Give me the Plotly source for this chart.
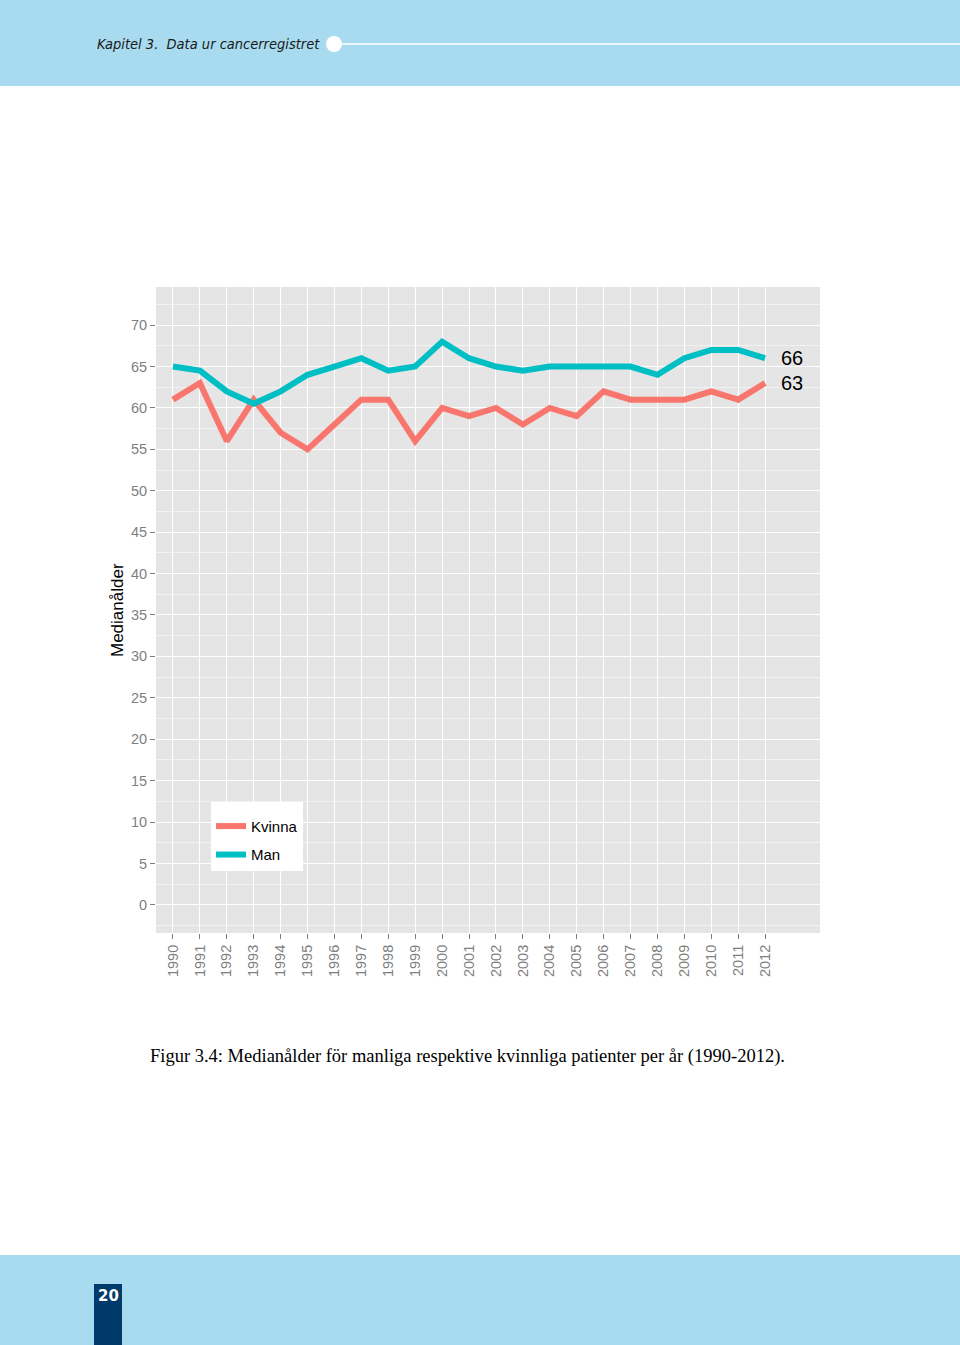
import plotly.graph_objects as go

years = list(range(1990, 2013))
kvinna = [61, 63, 56, 61, 57, 55, 58, 61, 61, 56, 60, 59, 60, 58, 60, 59, 62, 61, 61, 61, 62, 61, 63]
man = [65, 64.5, 62, 60.5, 62, 64, 65, 66, 64.5, 65, 68, 66, 65, 64.5, 65, 65, 65, 65, 64, 66, 67, 67, 66]
y_ticks = [0, 5, 10, 15, 20, 25, 30, 35, 40, 45, 50, 55, 60, 65, 70]
series_names = ["Kvinna", "Man"]
series_colors = ["#F8766D", "#00BFC4"]

W, H = 960, 1345
fig = go.Figure()
for name, vals, col in zip(series_names, [kvinna, man], series_colors):
    fig.add_trace(go.Scatter(x=years, y=vals, mode="lines", name=name, legendgroup=name,
                             line=dict(color=col, width=6)))

# end labels
for vals in [man, kvinna]:
    fig.add_annotation(x=years[-1] + 0.5, y=vals[-1], text=str(int(vals[-1])), showarrow=False,
                       xanchor="left", yanchor="middle", font=dict(size=20, color="black",
                       family="Liberation Sans"), xref="x", yref="y")

band = "#A8DBEF"
shapes = [
    dict(type="rect", xref="paper", yref="paper", x0=0, x1=1, y0=1 - 86 / H, y1=1,
         fillcolor=band, line_width=0, layer="below"),
    dict(type="line", xref="paper", yref="paper", x0=340 / W, x1=1, y0=1 - 44 / H, y1=1 - 44 / H,
         line=dict(color="white", width=1.5)),
    dict(type="circle", xref="paper", yref="paper", x0=326 / W, x1=342 / W,
         y0=1 - 52 / H, y1=1 - 36 / H, fillcolor="white", line_width=0),
    dict(type="rect", xref="paper", yref="paper", x0=0, x1=1, y0=0, y1=1 - 1255 / H,
         fillcolor=band, line_width=0, layer="below"),
    dict(type="rect", xref="paper", yref="paper", x0=94 / W, x1=122 / W, y0=0, y1=1 - 1284 / H,
         fillcolor="#003A6B", line_width=0),
]
annotations = [
    dict(xref="paper", yref="paper", x=95 / W, y=1 - 44 / H, text="<i>Kapitel 3.  Data ur cancerregistret</i>",
         showarrow=False, xanchor="left", yanchor="middle",
         font=dict(size=14.5, color="#1a1a1a", family="DejaVu Sans Condensed, Liberation Sans")),
    dict(xref="paper", yref="paper", x=108 / W, y=1 - 1296 / H, text="<b>20</b>",
         showarrow=False, xanchor="center", yanchor="middle",
         font=dict(size=15, color="white", family="DejaVu Sans")),
    dict(xref="paper", yref="paper", x=467 / W, y=1 - 1056 / H,
         text="Figur 3.4: Medianålder för manliga respektive kvinnliga patienter per år (1990-2012).",
         showarrow=False, xanchor="center", yanchor="middle",
         font=dict(size=18.5, color="black", family="Liberation Serif")),
    dict(xref="paper", yref="paper", x=117 / W, y=1 - 610 / H, text="Medianålder", textangle=-90,
         showarrow=False, xanchor="center", yanchor="middle",
         font=dict(size=17, color="black", family="Liberation Sans")),
]
for a in annotations:
    fig.add_annotation(**a)

fig.update_layout(
    width=W, height=H, margin=dict(l=0, r=0, t=0, b=0),
    paper_bgcolor="white", plot_bgcolor="#E5E5E5",
    shapes=shapes,
    font=dict(family="Liberation Sans", color="#7F7F7F", size=14),
    showlegend=True,
    legend=dict(x=211 / W, y=1 - 802 / H, xanchor="left", yanchor="top", bgcolor="white",
                font=dict(size=15, color="black", family="Liberation Sans"), itemwidth=30,
                tracegroupgap=6, title=dict(text=" ", font=dict(size=6))),
    xaxis=dict(domain=[156 / W, 820 / W], range=[1989.37, 2014.04], tickmode="array",
               tickvals=years, ticktext=[str(y) for y in years], tickangle=-90,
               showgrid=True, gridcolor="white", gridwidth=1.2, zeroline=False,
               ticks="outside", ticklen=5, tickcolor="#7F7F7F", tickwidth=1.2,
               tickfont=dict(size=14.5, color="#7F7F7F")),
    yaxis=dict(domain=[1 - 933 / H, 1 - 287 / H], range=[-3.4, 74.6], tickmode="array",
               tickvals=y_ticks, showgrid=True, gridcolor="white", gridwidth=1.2, zeroline=False,
               ticks="outside", ticklen=5, tickcolor="#7F7F7F", tickwidth=1.2,
               tickfont=dict(size=14.5, color="#7F7F7F"),
               minor=dict(dtick=2.5, tick0=0, showgrid=True, gridcolor="#F2F2F2", gridwidth=0.6)),
)

fig.write_html("out.html", config={"displayModeBar": False},
               post_script="document.body.style.margin='0';")
